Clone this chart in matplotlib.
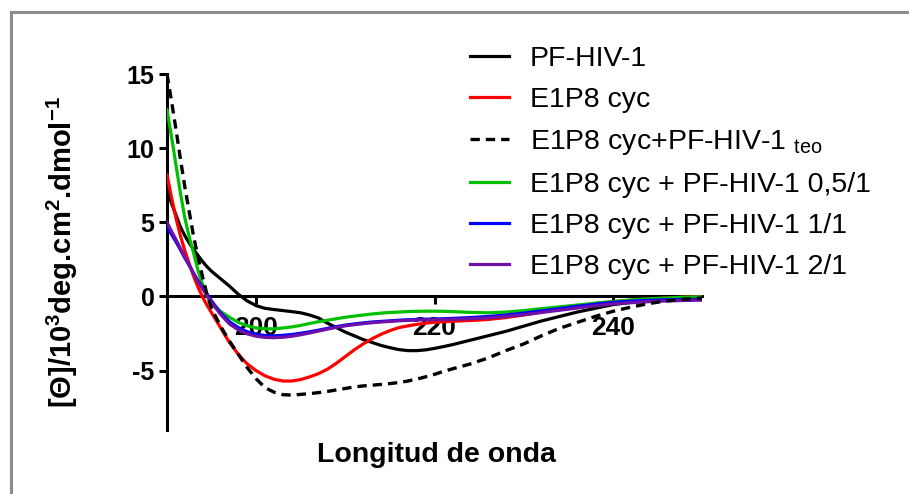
import numpy as np
import matplotlib
matplotlib.use("Agg")
import matplotlib.pyplot as plt
from matplotlib.lines import Line2D

plt.rcParams['font.family'] = ['Liberation Sans', 'DejaVu Sans']
plt.rcParams['mathtext.fontset'] = 'custom'
plt.rcParams['mathtext.rm'] = 'Liberation Sans'
plt.rcParams['mathtext.bf'] = 'Liberation Sans:bold'
plt.rcParams['axes.unicode_minus'] = False

# wavelength (nm)
wl = [190, 190.5, 191, 191.5, 192, 192.5, 193, 193.5, 194, 194.5,
      195, 196, 197, 198, 199, 200, 201, 202, 203, 204, 205, 206, 207, 208,
      209, 210, 211, 212, 213, 214, 215, 216, 217, 218, 219, 220, 221, 222,
      224, 226, 228, 230, 232, 234, 236, 238, 240, 242, 244, 246, 248, 250]

pf_hiv = [7.2, 6.3, 5.5, 4.7, 4.1, 3.6, 3.15, 2.75, 2.35, 2.0,
          1.7, 1.2, 0.7, 0.15, -0.3, -0.62, -0.8, -0.88, -0.95, -1.02, -1.1, -1.25, -1.45, -1.8,
          -2.1, -2.4, -2.65, -2.9, -3.1, -3.3, -3.45, -3.58, -3.65, -3.65, -3.6, -3.5, -3.38, -3.25,
          -2.95, -2.65, -2.35, -2.0, -1.65, -1.35, -1.05, -0.8, -0.55, -0.4, -0.3, -0.22, -0.15, -0.1]

e1p8 = [8.2, 6.7, 5.3, 4.1, 3.1, 2.2, 1.35, 0.6, -0.05, -0.6,
        -1.1, -2.1, -3.1, -3.9, -4.55, -5.0, -5.35, -5.58, -5.7, -5.7, -5.6, -5.42, -5.2, -4.9,
        -4.5, -4.05, -3.6, -3.2, -2.85, -2.55, -2.3, -2.1, -1.98, -1.88, -1.8, -1.74, -1.7, -1.67,
        -1.62, -1.55, -1.42, -1.25, -1.05, -0.85, -0.65, -0.48, -0.35, -0.25, -0.17, -0.1, -0.04, 0.0]

teo = [15.0, 13.2, 11.3, 9.3, 7.4, 5.7, 4.0, 2.6, 1.3, 0.1,
       -0.8, -2.0, -3.0, -3.9, -4.8, -5.55, -6.15, -6.45, -6.62, -6.65, -6.6, -6.55, -6.48, -6.4,
       -6.3, -6.2, -6.1, -6.03, -5.98, -5.93, -5.87, -5.8, -5.7, -5.57, -5.42, -5.25, -5.05, -4.88,
       -4.55, -4.15, -3.65, -3.2, -2.65, -2.15, -1.75, -1.35, -1.0, -0.72, -0.48, -0.3, -0.18, -0.1]

mix_05 = [12.6, 10.8, 8.9, 7.0, 5.3, 4.0, 2.9, 1.7, 0.8, 0.0,
          -0.5, -1.0, -1.4, -1.75, -1.98, -2.12, -2.18, -2.18, -2.12, -2.05, -1.95, -1.82, -1.7, -1.6,
          -1.5, -1.4, -1.32, -1.25, -1.18, -1.12, -1.08, -1.05, -1.02, -1.0, -0.99, -0.99, -1.0, -1.02,
          -1.07, -1.1, -1.05, -0.95, -0.82, -0.7, -0.58, -0.45, -0.34, -0.24, -0.16, -0.1, -0.05, -0.02]

mix_1 = [4.7, 4.2, 3.7, 3.16, 2.6, 2.1, 1.55, 1.05, 0.6, 0.15,
         -0.3, -1.1, -1.7, -2.1, -2.38, -2.55, -2.63, -2.65, -2.62, -2.56, -2.48, -2.38, -2.27, -2.15,
         -2.03, -1.93, -1.85, -1.78, -1.72, -1.68, -1.64, -1.6, -1.57, -1.55, -1.53, -1.52, -1.5, -1.48,
         -1.42, -1.35, -1.25, -1.12, -0.97, -0.82, -0.66, -0.52, -0.4, -0.32, -0.26, -0.22, -0.2, -0.2]

mix_2 = [5.0, 4.4, 3.85, 3.25, 2.65, 2.1, 1.55, 1.0, 0.5, 0.05,
         -0.4, -1.2, -1.85, -2.25, -2.52, -2.68, -2.76, -2.78, -2.75, -2.68, -2.58, -2.46, -2.33, -2.2,
         -2.08, -1.98, -1.9, -1.83, -1.77, -1.72, -1.68, -1.64, -1.61, -1.59, -1.57, -1.56, -1.55, -1.54,
         -1.5, -1.44, -1.35, -1.23, -1.08, -0.93, -0.78, -0.63, -0.5, -0.42, -0.35, -0.3, -0.27, -0.25]

fig = plt.figure(figsize=(9.09, 4.94), dpi=100)
ax = fig.add_axes([0.1837, 0.1296, 0.5886, 0.7206])

lw = 2.3
ax.plot(wl, pf_hiv, color='black', lw=lw, label='PF-HIV-1', zorder=2)
ax.plot(wl, e1p8, color='#ff0000', lw=lw, label='E1P8 cyc', zorder=3)
ax.plot(wl, teo, color='black', lw=2.4, ls=(0, (2.8, 1.8)),
        label=r'E1P8 cyc+PF-HIV-1 $_{\mathrm{teo}}$', zorder=7)
ax.plot(wl, mix_05, color='#00c000', lw=lw, label='E1P8 cyc + PF-HIV-1 0,5/1', zorder=4)
ax.plot(wl, mix_1, color='#0000ff', lw=lw, label='E1P8 cyc + PF-HIV-1 1/1', zorder=5)
ax.plot(wl, mix_2, color='#6f10a8', lw=lw, label='E1P8 cyc + PF-HIV-1 2/1', zorder=6)

ax.set_xlim(190, 250)
ax.set_ylim(-9, 15)
ax.spines['top'].set_visible(False)
ax.spines['right'].set_visible(False)
ax.spines['bottom'].set_position(('data', 0))
ax.spines['left'].set_linewidth(2.2)
ax.spines['bottom'].set_linewidth(2.2)
ax.set_xticks([200, 220, 240])
ax.set_yticks([-5, 0, 5, 10, 15])
ax.tick_params(axis='both', direction='out', length=6, width=2.2)
ax.tick_params(axis='y', pad=3, labelsize=18)
ax.tick_params(axis='x', pad=8, labelsize=19)
for t in ax.get_xticklabels() + ax.get_yticklabels():
    t.set_fontweight('bold')

fig.text(436 / 909, 1 - 455 / 494, 'Longitud de onda', ha='center', va='center',
         fontsize=20.5, fontweight='bold')
fig.text(62 / 909, 1 - 252 / 494,
         r'[Θ]/10$^{\mathbf{3}}$deg.cm$^{\mathbf{2}}$.dmol$^{\mathbf{-1}}$',
         rotation=90, ha='center', va='center', fontsize=21, fontweight='bold')

ax.legend(loc='upper left', bbox_to_anchor=(469.6 / 909, 1 - 46 / 494),
          bbox_transform=fig.transFigure, frameon=False, fontsize=20.5,
          borderpad=0, borderaxespad=0, handlelength=1.37, handletextpad=0.74,
          labelspacing=0.53)

# grey frame of the original figure
fig.add_artist(Line2D([10.5 / 909, 1], [1 - 12.5 / 494, 1 - 12.5 / 494],
                      transform=fig.transFigure, color='#8c8c8c', lw=2.2))
fig.add_artist(Line2D([10.5 / 909, 10.5 / 909], [0, 1 - 12.5 / 494],
                      transform=fig.transFigure, color='#8c8c8c', lw=2.2))

fig.savefig('out.png', dpi=100)
